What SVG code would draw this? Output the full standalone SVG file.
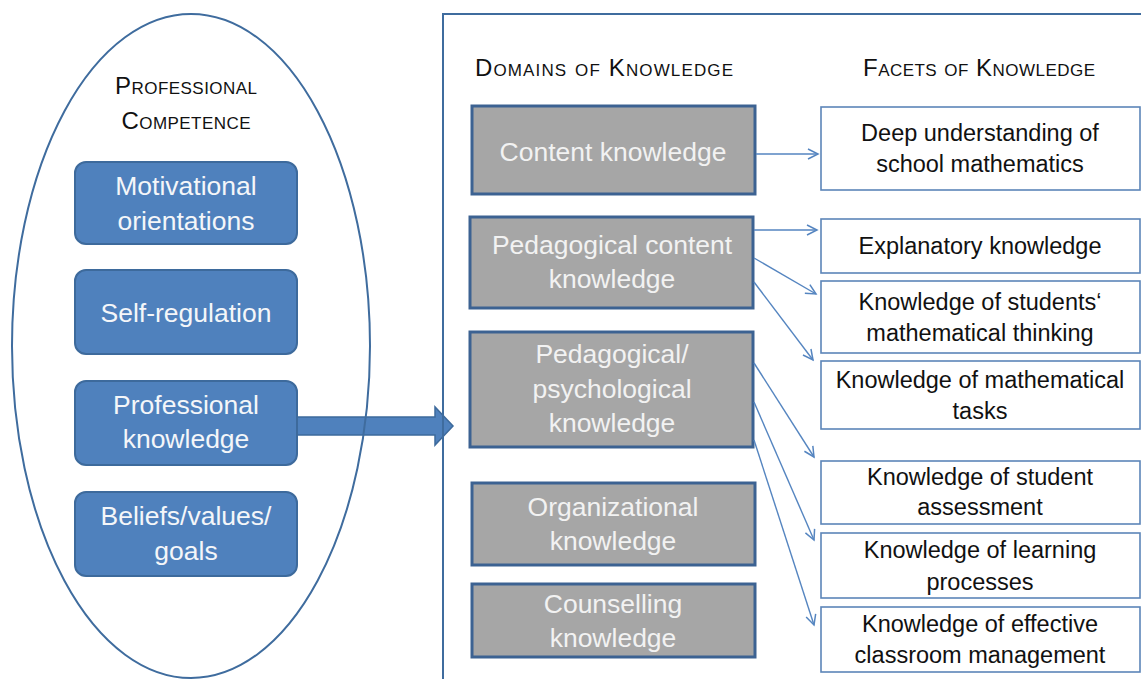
<svg xmlns="http://www.w3.org/2000/svg" width="1141" height="679" viewBox="0 0 1141 679">
<defs>
<marker id="open" markerUnits="userSpaceOnUse" markerWidth="14" markerHeight="14" refX="11" refY="6" orient="auto" viewBox="0 0 14 12">
<path d="M1,1 L11,6 L1,11" fill="none" stroke="#5585C0" stroke-width="1.5"/>
</marker>
<style>
.cap{font-family:"Liberation Sans",Arial,sans-serif;font-size:24px;font-variant:small-caps;fill:#111;text-anchor:middle}
.blue rect{fill:#4F81BD;stroke:#3D6A9C;stroke-width:2}
.blue text{font-family:"Liberation Sans",Arial,sans-serif;font-size:26.5px;fill:#F4F6F9;text-anchor:middle}
.gray rect{fill:#A6A6A6;stroke:#3C6292;stroke-width:3}
.gray text{font-family:"Liberation Sans",Arial,sans-serif;font-size:26.5px;fill:#F2F2F2;text-anchor:middle}
.facet rect{fill:#fff;stroke:#5C85B8;stroke-width:1.6}
.facet text{font-family:"Liberation Sans",Arial,sans-serif;font-size:23.5px;fill:#111;text-anchor:middle}
.conn line{stroke:#5585C0;stroke-width:1.4;marker-end:url(#open)}
</style>
</defs>
<rect width="1141" height="679" fill="#fff"/>

<g id="bigarrow">
<path d="M297,417 L435,417 L435,407 L453,426 L435,445 L435,435 L297,435 Z" fill="#4F81BD" stroke="#3D6A9C" stroke-width="1.5"/>
</g>

<g id="competence">
<ellipse cx="191" cy="346" rx="179" ry="332" fill="none" stroke="#3F6C9E" stroke-width="2"/>
<text class="cap" x="186" y="94" textLength="142" lengthAdjust="spacing">Professional</text>
<text class="cap" x="186" y="129" textLength="129" lengthAdjust="spacing">Competence</text>
</g>

<g id="frame">
<rect x="443" y="14" width="800" height="800" fill="none" stroke="#3F6C9E" stroke-width="2"/>
<text class="cap" x="604" y="76" textLength="258" lengthAdjust="spacing">Domains of Knowledge</text>
<text class="cap" x="979" y="76" textLength="232" lengthAdjust="spacing">Facets of Knowledge</text>
</g>

<g id="motivational" class="blue">
<rect x="75" y="162" width="222" height="82" rx="11"/>
<text x="186" y="195">Motivational</text>
<text x="186" y="230">orientations</text>
</g>
<g id="self-regulation" class="blue">
<rect x="75" y="270" width="222" height="84" rx="11"/>
<text x="186" y="322">Self-regulation</text>
</g>
<g id="professional-knowledge" class="blue">
<rect x="75" y="381" width="222" height="84" rx="11"/>
<text x="186" y="414">Professional</text>
<text x="186" y="448">knowledge</text>
</g>
<g id="beliefs" class="blue">
<rect x="75" y="492" width="222" height="84" rx="11"/>
<text x="186" y="525">Beliefs/values/</text>
<text x="186" y="560">goals</text>
</g>

<g id="content" class="gray">
<rect x="472" y="106" width="283" height="88"/>
<text x="613" y="161">Content knowledge</text>
</g>
<g id="pck" class="gray">
<rect x="470" y="217" width="283" height="91"/>
<text x="612" y="254">Pedagogical content</text>
<text x="612" y="288">knowledge</text>
</g>
<g id="ppk" class="gray">
<rect x="470" y="332" width="283" height="115"/>
<text x="612" y="363">Pedagogical/</text>
<text x="612" y="398">psychological</text>
<text x="612" y="432">knowledge</text>
</g>
<g id="organizational" class="gray">
<rect x="472" y="483" width="283" height="82"/>
<text x="613" y="516">Organizational</text>
<text x="613" y="550">knowledge</text>
</g>
<g id="counselling" class="gray">
<rect x="472" y="584" width="283" height="73"/>
<text x="613" y="613">Counselling</text>
<text x="613" y="647">knowledge</text>
</g>

<g id="deep" class="facet">
<rect x="821" y="107" width="319" height="83"/>
<text x="980" y="141">Deep understanding of</text>
<text x="980" y="172">school mathematics</text>
</g>
<g id="explanatory" class="facet">
<rect x="821" y="219" width="319" height="54"/>
<text x="980" y="254">Explanatory knowledge</text>
</g>
<g id="thinking" class="facet">
<rect x="821" y="281" width="319" height="72"/>
<text x="980" y="310">Knowledge of students‘</text>
<text x="980" y="341">mathematical thinking</text>
</g>
<g id="tasks" class="facet">
<rect x="821" y="361" width="319" height="68"/>
<text x="980" y="388">Knowledge of mathematical</text>
<text x="980" y="419">tasks</text>
</g>
<g id="assessment" class="facet">
<rect x="821" y="461" width="319" height="63"/>
<text x="980" y="485">Knowledge of student</text>
<text x="980" y="515">assessment</text>
</g>
<g id="learning" class="facet">
<rect x="821" y="533" width="319" height="65"/>
<text x="980" y="558">Knowledge of learning</text>
<text x="980" y="590">processes</text>
</g>
<g id="classroom" class="facet">
<rect x="821" y="607" width="319" height="65"/>
<text x="980" y="632">Knowledge of effective</text>
<text x="980" y="663">classroom management</text>
</g>

<g id="connectors" class="conn">
<line x1="756" y1="154" x2="818" y2="154"/>
<line x1="754" y1="230" x2="817" y2="230"/>
<line x1="754" y1="258" x2="816" y2="294"/>
<line x1="754" y1="282" x2="813" y2="360"/>
<line x1="754" y1="363" x2="814" y2="457"/>
<line x1="754" y1="402" x2="814" y2="540"/>
<line x1="754" y1="440" x2="814" y2="625"/>
</g>
</svg>
